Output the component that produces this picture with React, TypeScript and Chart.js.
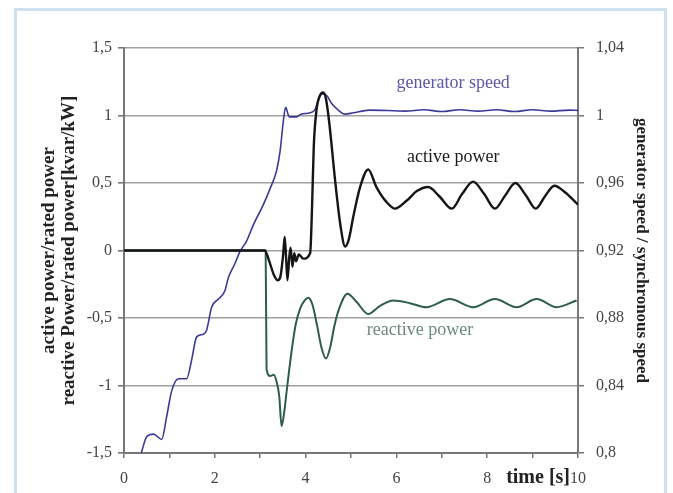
import React, { useEffect, useRef } from 'react';
import { Chart, registerables } from 'chart.js';

Chart.register(...registerables);

const FONT = "'Liberation Serif', 'DejaVu Serif', serif";

// x-axis (time [s]) ticks
const xTickValues = [0, 1, 2, 3, 4, 5, 6, 7, 8, 9, 10];
const xTickLabels = ['0', '', '2', '', '4', '', '6', '', '8', '', '10'];

// left axis ticks (power, p.u.)
const leftTicks = [-1.5, -1, -0.5, 0, 0.5, 1, 1.5];
// right axis ticks (speed, p.u.)
const rightTicks = [0.8, 0.84, 0.88, 0.92, 0.96, 1.0, 1.04];

// active power / rated power
const activeT = [0, 3.1, 3.2, 3.3, 3.38, 3.44, 3.5, 3.54, 3.57, 3.6, 3.64, 3.67, 3.71, 3.75, 3.79, 3.85, 3.95, 4.1, 4.14, 4.18, 4.24, 4.32, 4.39, 4.45, 4.52, 4.65, 4.77, 4.87, 4.95, 5.05, 5.2, 5.38, 5.56, 5.78, 5.97, 6.23, 6.45, 6.7, 6.95, 7.22, 7.45, 7.69, 7.93, 8.17, 8.4, 8.62, 8.85, 9.07, 9.27, 9.48, 9.72, 10];
const activeP = [0, 0, -0.08, -0.18, -0.22, -0.2, -0.05, 0.1, -0.05, -0.22, -0.05, 0.02, -0.12, -0.02, -0.08, -0.03, -0.06, -0.02, 0.3, 0.77, 1.04, 1.15, 1.17, 1.12, 0.95, 0.52, 0.18, 0.03, 0.08, 0.25, 0.47, 0.6, 0.47, 0.36, 0.31, 0.37, 0.44, 0.47, 0.4, 0.31, 0.42, 0.51, 0.42, 0.31, 0.41, 0.5, 0.41, 0.31, 0.4, 0.48, 0.43, 0.34];

// reactive power / rated power
const reactiveT = [0, 3.12, 3.14, 3.22, 3.3, 3.36, 3.42, 3.47, 3.52, 3.58, 3.64, 3.69, 3.78, 3.88, 3.98, 4.06, 4.15, 4.25, 4.35, 4.45, 4.54, 4.64, 4.75, 4.92, 5.12, 5.38, 5.64, 5.93, 6.3, 6.66, 7.18, 7.69, 8.17, 8.65, 9.09, 9.53, 9.97];
const reactiveQ = [0, 0, -0.88, -0.93, -0.92, -0.97, -1.08, -1.3, -1.22, -1.05, -0.88, -0.75, -0.55, -0.43, -0.37, -0.35, -0.4, -0.55, -0.72, -0.8, -0.72, -0.55, -0.42, -0.32, -0.38, -0.47, -0.41, -0.37, -0.39, -0.42, -0.36, -0.42, -0.36, -0.42, -0.36, -0.42, -0.37];

// generator speed / synchronous speed
const speedT = [0.38, 0.5, 0.65, 0.83, 0.94, 1.05, 1.2, 1.38, 1.49, 1.6, 1.75, 1.82, 1.93, 2.08, 2.22, 2.3, 2.44, 2.55, 2.7, 2.85, 3.07, 3.22, 3.36, 3.44, 3.51, 3.56, 3.64, 3.8, 3.9, 4.1, 4.2, 4.35, 4.46, 4.57, 4.72, 4.87, 5.05, 5.4, 5.8, 6.2, 6.6, 7.0, 7.4, 7.8, 8.2, 8.6, 9.0, 9.4, 9.8, 10];
const speedS = [0.8, 0.8096, 0.8112, 0.808, 0.8216, 0.8368, 0.844, 0.844, 0.8552, 0.8688, 0.8704, 0.8728, 0.8864, 0.8912, 0.896, 0.904, 0.912, 0.9192, 0.9256, 0.9352, 0.9472, 0.9568, 0.9672, 0.9792, 0.9968, 1.0048, 0.9992, 0.9992, 1.0008, 1.0016, 1.0032, 1.0128, 1.012, 1.0072, 1.0032, 1.0008, 1.0016, 1.0032, 1.003, 1.0026, 1.0034, 1.0024, 1.0034, 1.0026, 1.0034, 1.0024, 1.0034, 1.0026, 1.0032, 1.003];

const fmt = (v: number) => String(Math.round(v * 100) / 100).replace('.', ',');

export default function App() {
  const ref = useRef<HTMLCanvasElement>(null);

  useEffect(() => {
    const canvas = ref.current!;
    const pts = (xs: number[], ys: number[]) => xs.map((x, i) => ({ x, y: ys[i] }));

    const bgPlugin = {
      id: 'bg',
      beforeDraw(chart: any) {
        const c = chart.ctx;
        c.save();
        c.fillStyle = '#ffffff';
        c.fillRect(0, 0, chart.width, chart.height);
        c.restore();
      },
    };

    const textPlugin = {
      id: 'texts',
      afterDraw(chart: any) {
        const c = chart.ctx;
        const xs = chart.scales.x;
        const ys = chart.scales.y;
        c.save();
        c.textAlign = 'center';
        c.textBaseline = 'middle';
        c.font = `18px ${FONT}`;
        c.fillStyle = '#5a5aa8';
        c.fillText('generator speed', xs.getPixelForValue(7.25), ys.getPixelForValue(1.24));
        c.fillStyle = '#1a1a1a';
        c.fillText('active power', xs.getPixelForValue(7.25), ys.getPixelForValue(0.69));
        c.fillStyle = '#6a8a7c';
        c.fillText('reactive power', xs.getPixelForValue(6.52), ys.getPixelForValue(-0.59));
        // x axis title placed on the label row
        c.font = `bold 20px ${FONT}`;
        c.fillStyle = '#222';
        c.textAlign = 'right';
        c.fillText('time [s]', xs.getPixelForValue(10) - 8, xs.bottom - 15);
        c.restore();
      },
    };

    const chart = new Chart(canvas, {
      type: 'line',
      data: {
        datasets: [
          {
            label: 'active power',
            data: pts(activeT, activeP),
            yAxisID: 'y',
            borderColor: '#151515',
            borderWidth: 2.4,
            pointRadius: 0,
            fill: false,
            cubicInterpolationMode: 'monotone',
          },
          {
            label: 'generator speed',
            data: pts(speedT, speedS),
            yAxisID: 'y1',
            borderColor: '#3a3a98',
            borderWidth: 1.6,
            pointRadius: 0,
            fill: false,
            cubicInterpolationMode: 'monotone',
          },
          {
            label: 'reactive power',
            data: pts(reactiveT, reactiveQ),
            yAxisID: 'y',
            borderColor: '#2e5e4a',
            borderWidth: 2,
            pointRadius: 0,
            fill: false,
            cubicInterpolationMode: 'monotone',
          },
        ],
      },
      options: {
        responsive: false,
        animation: false,
        devicePixelRatio: 1,
        layout: { padding: { top: 48, left: 0, right: 0, bottom: 0 } },
        plugins: { legend: { display: false }, tooltip: { enabled: false } },
        scales: {
          x: {
            type: 'linear',
            min: 0,
            max: 10,
            afterBuildTicks: (s: any) => {
              s.ticks = xTickValues.map((v) => ({ value: v }));
            },
            afterFit: (s: any) => {
              s.height = 40;
            },
            ticks: {
              autoSkip: false,
              maxRotation: 0,
              padding: 11,
              color: '#444',
              font: { family: FONT, size: 16 },
              callback: (_v: any, i: number) => xTickLabels[i],
            },
            grid: { drawOnChartArea: false, tickLength: 5, color: '#777', lineWidth: 1.5 },
            border: { color: '#777', width: 2 },
          },
          y: {
            type: 'linear',
            position: 'left',
            min: -1.5,
            max: 1.5,
            afterBuildTicks: (s: any) => {
              s.ticks = leftTicks.map((v) => ({ value: v }));
            },
            afterFit: (s: any) => {
              s.width = 124;
            },
            ticks: {
              padding: 6,
              color: '#444',
              font: { family: FONT, size: 16 },
              callback: (v: any) => fmt(Number(v)),
            },
            grid: { color: '#a0a0a0', lineWidth: 1.6, tickLength: 6, tickColor: '#777' },
            border: { color: '#777', width: 2 },
            title: {
              display: true,
              text: ['active power/rated power', 'reactive Power/rated power[kvar/kW]'],
              color: '#222',
              font: { family: FONT, size: 19, weight: 'bold', lineHeight: 1.05 },
              padding: { top: 39, bottom: 0 },
            },
          },
          y1: {
            type: 'linear',
            position: 'right',
            min: 0.8,
            max: 1.04,
            afterBuildTicks: (s: any) => {
              s.ticks = rightTicks.map((v) => ({ value: v }));
            },
            afterFit: (s: any) => {
              s.width = 95;
            },
            ticks: {
              padding: 12,
              color: '#444',
              font: { family: FONT, size: 16 },
              callback: (v: any) => fmt(Number(v)),
            },
            grid: { drawOnChartArea: false, tickLength: 6, color: '#777', lineWidth: 1.5 },
            border: { color: '#777', width: 2 },
            title: {
              display: true,
              text: 'generator speed / synchronous speed',
              color: '#222',
              font: { family: FONT, size: 17, weight: 'bold', lineHeight: 1.1 },
              padding: { top: 22, bottom: 0 },
            },
          },
        },
      } as any,
      plugins: [bgPlugin, textPlugin],
    });

    return () => chart.destroy();
  }, []);

  return (
    <div style={{ position: 'absolute', left: 0, top: 0, width: 673, height: 493, overflow: 'hidden', background: '#fff' }}>
      <canvas ref={ref} width={673} height={493} style={{ display: 'block', width: 673, height: 493 }} />
      <div
        style={{
          position: 'absolute',
          left: 14,
          top: 8,
          width: 653,
          height: 520,
          border: '3px solid #cfe0ee',
          boxSizing: 'border-box',
          pointerEvents: 'none',
        }}
      />
    </div>
  );
}
